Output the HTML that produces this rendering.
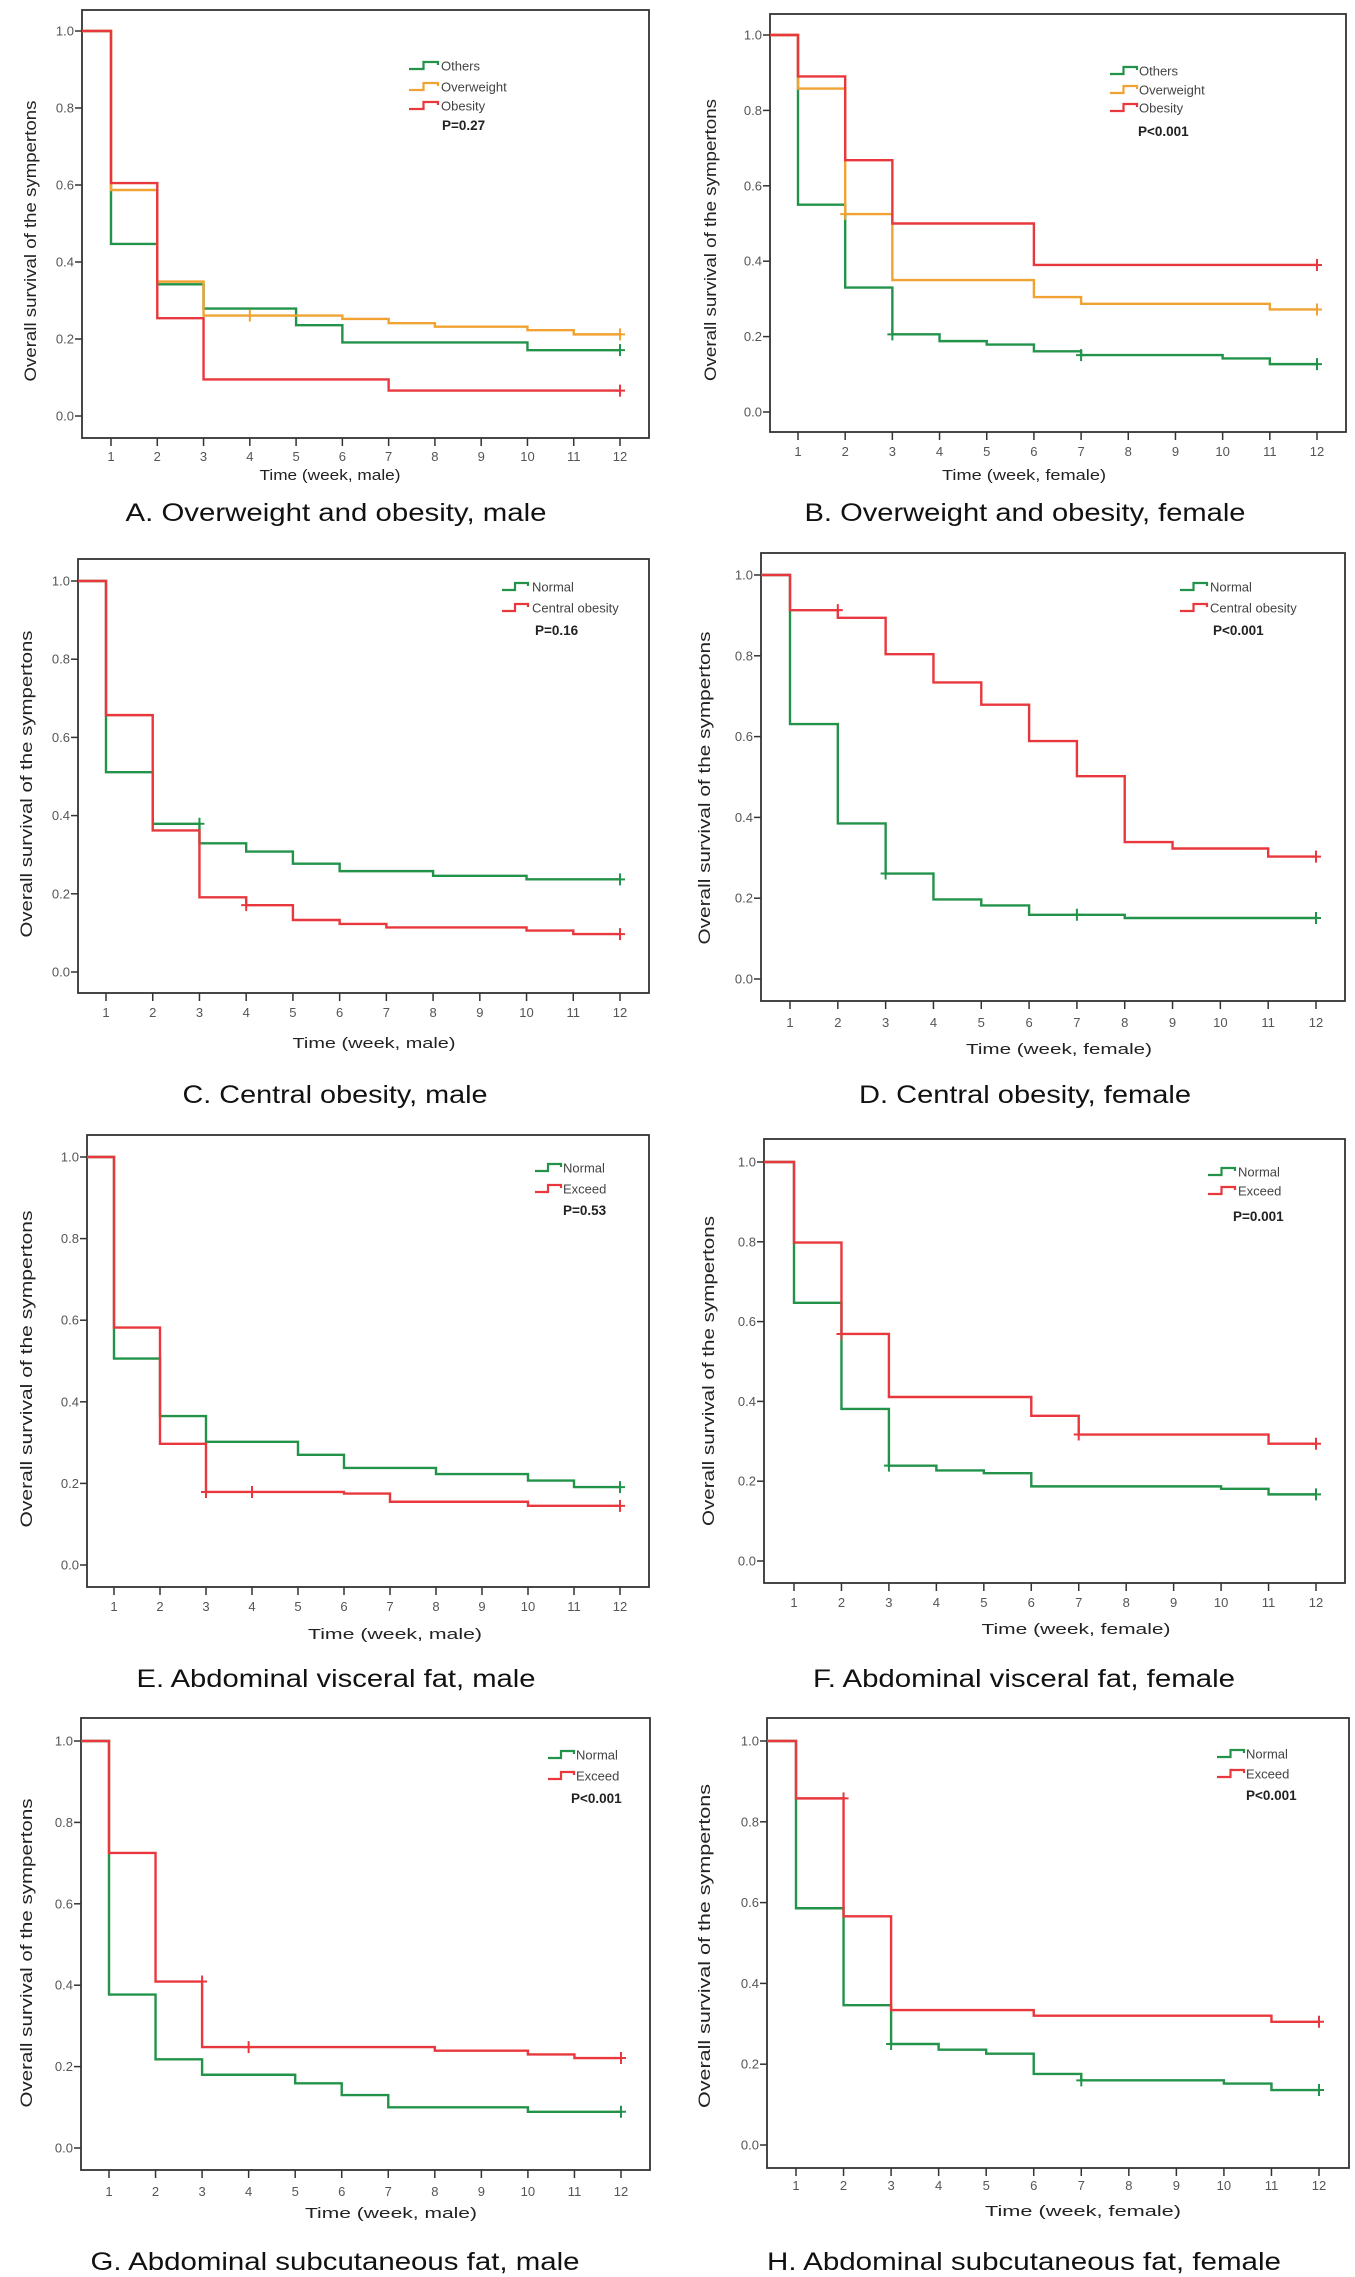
<!DOCTYPE html>
<html><head><meta charset="utf-8"><style>
html,body{margin:0;padding:0;background:#fff;}
svg{display:block;font-family:"Liberation Sans",Arial,sans-serif;}
</style></head><body>
<svg id="fig" width="1355" height="2277" viewBox="0 0 1355 2277" xmlns="http://www.w3.org/2000/svg">
<rect x="0" y="0" width="1355" height="2277" fill="#fff"/>
</svg>
<script>
// shared axis data
const xTicks = [1,2,3,4,5,6,7,8,9,10,11,12];
const yTicks = [0,0.2,0.4,0.6,0.8,1.0];
const yTickLabels = ["0.0","0.2","0.4","0.6","0.8","1.0"];
const stepWeeks = [1,2,3,4,5,6,7,8,9,10,11];

// Panel A
const A_others = [0.447,0.342,0.279,0.279,0.236,0.191,0.191,0.191,0.191,0.171,0.171];
const A_overweight = [0.587,0.349,0.261,0.261,0.261,0.252,0.241,0.232,0.232,0.223,0.212];
const A_obesity = [0.605,0.254,0.095,0.095,0.095,0.095,0.066,0.066,0.066,0.066,0.066];
const A_othersCensT = [12], A_othersCensV = [0.171];
const A_overCensT = [4,12], A_overCensV = [0.261,0.212];
const A_obCensT = [12], A_obCensV = [0.066];
// Panel B
const B_others = [0.55,0.330,0.206,0.188,0.179,0.161,0.151,0.151,0.151,0.142,0.127];
const B_overweight = [0.858,0.525,0.350,0.350,0.350,0.305,0.287,0.287,0.287,0.287,0.272];
const B_obesity = [0.890,0.668,0.500,0.500,0.500,0.390,0.390,0.390,0.390,0.390,0.390];
const B_othersCensT = [3,7,12], B_othersCensV = [0.206,0.151,0.127];
const B_overCensT = [2,12], B_overCensV = [0.525,0.272];
const B_obCensT = [12], B_obCensV = [0.390];
// Panel C
const C_normal = [0.511,0.379,0.329,0.308,0.277,0.258,0.258,0.246,0.246,0.237,0.237];
const C_central = [0.657,0.362,0.191,0.171,0.133,0.123,0.114,0.114,0.114,0.106,0.097];
const C_normCensT = [3,12], C_normCensV = [0.379,0.237];
const C_centCensT = [4,12], C_centCensV = [0.171,0.097];
// Panel D
const D_normal = [0.631,0.385,0.261,0.197,0.182,0.159,0.159,0.151,0.151,0.151,0.151];
const D_central = [0.913,0.894,0.804,0.734,0.679,0.589,0.502,0.339,0.323,0.323,0.303];
const D_normCensT = [3,7,12], D_normCensV = [0.261,0.159,0.151];
const D_centCensT = [2,12], D_centCensV = [0.913,0.303];
// Panel E
const E_normal = [0.506,0.365,0.302,0.302,0.270,0.238,0.238,0.223,0.223,0.207,0.191];
const E_exceed = [0.582,0.297,0.179,0.179,0.179,0.175,0.155,0.155,0.155,0.145,0.145];
const E_normCensT = [12], E_normCensV = [0.191];
const E_excCensT = [3,4,12], E_excCensV = [0.179,0.179,0.145];
// Panel F
const F_normal = [0.647,0.381,0.239,0.227,0.220,0.187,0.187,0.187,0.187,0.181,0.167];
const F_exceed = [0.798,0.569,0.411,0.411,0.411,0.364,0.317,0.317,0.317,0.317,0.294];
const F_normCensT = [3,12], F_normCensV = [0.239,0.167];
const F_excCensT = [2,7,12], F_excCensV = [0.569,0.317,0.294];
// Panel G
const G_normal = [0.377,0.218,0.180,0.180,0.159,0.130,0.100,0.100,0.100,0.089,0.089];
const G_exceed = [0.725,0.409,0.248,0.248,0.248,0.248,0.248,0.239,0.239,0.230,0.221];
const G_normCensT = [12], G_normCensV = [0.089];
const G_excCensT = [3,4,12], G_excCensV = [0.409,0.248,0.221];
// Panel H
const H_normal = [0.586,0.346,0.250,0.236,0.226,0.176,0.160,0.160,0.160,0.152,0.136];
const H_exceed = [0.858,0.566,0.334,0.334,0.334,0.320,0.320,0.320,0.320,0.320,0.305];
const H_normCensT = [3,7,12], H_normCensV = [0.250,0.160,0.136];
const H_excCensT = [2,12], H_excCensV = [0.858,0.305];

const GREEN = "#23934a", ORANGE = "#f0a332", RED = "#e8383d";
const NS = "http://www.w3.org/2000/svg";
const svg = document.getElementById("fig");

function mk(tag, attrs, parent, text){
  const e = document.createElementNS(NS, tag);
  for (const k in attrs) e.setAttribute(k, attrs[k]);
  if (text !== undefined) e.textContent = text;
  (parent || svg).appendChild(e);
  return e;
}

const panels = [
 {id:"a", l:82,r:649,t:10,b:438, x1:111,x12:620, yT:31,yB:416, tickY:461, titleY:480, titleX:330, titleW:141, xTitle:"Time (week, male)",
  ytX:30, ytC:241, ytL:281, capX:336, capY:521, capW:421, cap:"A. Overweight and obesity, male",
  legX0:409, legX1:438, legTX:441, legRows:[66,87,106], pX:442, pY:130, p:"P=0.27",
  series:[["others","Others",GREEN,A_others,A_othersCensT,A_othersCensV],["overweight","Overweight",ORANGE,A_overweight,A_overCensT,A_overCensV],["obesity","Obesity",RED,A_obesity,A_obCensT,A_obCensV]]},
 {id:"b", l:770,r:1346,t:14,b:432, x1:798,x12:1317, yT:35,yB:412, tickY:456, titleY:480, titleX:1024, titleW:164, xTitle:"Time (week, female)",
  ytX:710, ytC:240, ytL:282, capX:1025, capY:521, capW:441, cap:"B. Overweight and obesity, female",
  legX0:1110, legX1:1137, legTX:1139, legRows:[71,90,108], pX:1138, pY:136, p:"P<0.001",
  series:[["others","Others",GREEN,B_others,B_othersCensT,B_othersCensV],["overweight","Overweight",ORANGE,B_overweight,B_overCensT,B_overCensV],["obesity","Obesity",RED,B_obesity,B_obCensT,B_obCensV]]},
 {id:"c", l:78,r:649,t:559,b:993, x1:106,x12:620, yT:581,yB:972, tickY:1017, titleY:1048, titleX:374, titleW:163, xTitle:"Time (week, male)",
  ytX:26, ytC:784, ytL:307, capX:335, capY:1103, capW:305, cap:"C. Central obesity, male",
  legX0:502, legX1:528, legTX:532, legRows:[587,608], pX:535, pY:635, p:"P=0.16",
  series:[["normal","Normal",GREEN,C_normal,C_normCensT,C_normCensV],["central-obesity","Central obesity",RED,C_central,C_centCensT,C_centCensV]]},
 {id:"d", l:761,r:1345,t:553,b:1001, x1:790,x12:1316, yT:575,yB:979, tickY:1027, titleY:1054, titleX:1059, titleW:186, xTitle:"Time (week, female)",
  ytX:704, ytC:788, ytL:313, capX:1025, capY:1103, capW:332, cap:"D. Central obesity, female",
  legX0:1180, legX1:1207, legTX:1210, legRows:[587,608], pX:1213, pY:635, p:"P<0.001",
  series:[["normal","Normal",GREEN,D_normal,D_normCensT,D_normCensV],["central-obesity","Central obesity",RED,D_central,D_centCensT,D_centCensV]]},
 {id:"e", l:87,r:649,t:1135,b:1587, x1:114,x12:620, yT:1157,yB:1565, tickY:1611, titleY:1639, titleX:395, titleW:174, xTitle:"Time (week, male)",
  ytX:26, ytC:1369, ytL:317, capX:336, capY:1687, capW:399, cap:"E. Abdominal visceral fat, male",
  legX0:535, legX1:561, legTX:563, legRows:[1168,1189], pX:563, pY:1215, p:"P=0.53",
  series:[["normal","Normal",GREEN,E_normal,E_normCensT,E_normCensV],["exceed","Exceed",RED,E_exceed,E_excCensT,E_excCensV]]},
 {id:"f", l:764,r:1345,t:1139,b:1583, x1:794,x12:1316, yT:1162,yB:1561, tickY:1607, titleY:1634, titleX:1076, titleW:189, xTitle:"Time (week, female)",
  ytX:708, ytC:1371, ytL:310, capX:1024, capY:1687, capW:422, cap:"F. Abdominal visceral fat, female",
  legX0:1208, legX1:1235, legTX:1238, legRows:[1172,1191], pX:1233, pY:1221, p:"P=0.001",
  series:[["normal","Normal",GREEN,F_normal,F_normCensT,F_normCensV],["exceed","Exceed",RED,F_exceed,F_excCensT,F_excCensV]]},
 {id:"g", l:81,r:650,t:1718,b:2170, x1:109,x12:621, yT:1741,yB:2148, tickY:2196, titleY:2218, titleX:391, titleW:172, xTitle:"Time (week, male)",
  ytX:26, ytC:1953, ytL:309, capX:335, capY:2270, capW:489, cap:"G. Abdominal subcutaneous fat, male",
  legX0:548, legX1:574, legTX:576, legRows:[1755,1776], pX:571, pY:1803, p:"P<0.001",
  series:[["normal","Normal",GREEN,G_normal,G_normCensT,G_normCensV],["exceed","Exceed",RED,G_exceed,G_excCensT,G_excCensV]]},
 {id:"h", l:767,r:1349,t:1718,b:2168, x1:796,x12:1319, yT:1741,yB:2145, tickY:2190, titleY:2216, titleX:1083, titleW:196, xTitle:"Time (week, female)",
  ytX:704, ytC:1946, ytL:324, capX:1024, capY:2270, capW:514, cap:"H. Abdominal subcutaneous fat, female",
  legX0:1217, legX1:1244, legTX:1246, legRows:[1754,1774], pX:1246, pY:1800, p:"P<0.001",
  series:[["normal","Normal",GREEN,H_normal,H_normCensT,H_normCensV],["exceed","Exceed",RED,H_exceed,H_excCensT,H_excCensV]]}
];

panels.forEach(P => {
  const g = mk("g", {});
  
  
  const xs = w => P.x1 + (w - 1) * (P.x12 - P.x1) / 11;
  const ys = v => P.yB - v * (P.yB - P.yT);

  const frame = mk("rect", {x:P.l, y:P.t, width:P.r-P.l, height:P.b-P.t, fill:"none", stroke:"#333", "stroke-width":1.8}, g);
  
  

  yTicks.forEach((v, i) => {
    const y = ys(v);
    const tk = mk("line", {x1:P.l-7, x2:P.l, y1:y, y2:y, stroke:"#333", "stroke-width":1.5}, g);
    
    
    const lb = mk("text", {x:P.l-8, y:y+4.5, "text-anchor":"end", "font-size":13, fill:"#555"}, g, yTickLabels[i]);
    
    
  });
  xTicks.forEach(w => {
    const x = xs(w);
    const tk = mk("line", {x1:x, x2:x, y1:P.b, y2:P.b+8, stroke:"#333", "stroke-width":1.5}, g);
    
    
    const lb = mk("text", {x:x, y:P.tickY, "text-anchor":"middle", "font-size":13, fill:"#555"}, g, String(w));
    
    
  });

  const xt = mk("text", {x:P.titleX, y:P.titleY, "text-anchor":"middle", "font-size":15, fill:"#222", textLength:P.titleW, lengthAdjust:"spacingAndGlyphs"}, g, P.xTitle);
  
  

  const yt = mk("text", {x:0, y:0, "text-anchor":"middle", "font-size":17, fill:"#222", textLength:P.ytL, lengthAdjust:"spacingAndGlyphs",
    transform:"translate(" + (P.ytX + 6) + "," + P.ytC + ") rotate(-90)"}, g, "Overall survival of the sympertons");
  
  

  const cap = mk("text", {x:P.capX, y:P.capY, "text-anchor":"middle", "font-size":25, fill:"#111", textLength:P.capW, lengthAdjust:"spacingAndGlyphs"}, g, P.cap);
  
  

  P.series.forEach((s, si) => {
    const [key, label, col, vals, cT, cV] = s;
    let d = "M" + P.l + "," + ys(1) + " H" + xs(1);
    vals.forEach((v, i) => { d += " V" + ys(v) + " H" + xs(stepWeeks[i] + 1); });
    const path = mk("path", {d:d, fill:"none", stroke:col, "stroke-width":2.4}, g);
    
    
    cT.forEach((t, i) => {
      const cx = xs(t), cy = ys(cV[i]);
      const cm = mk("path", {d:"M" + cx + "," + (cy-6) + " V" + (cy+6) + " M" + (cx-5) + "," + cy + " H" + (cx+5), stroke:col, "stroke-width":2, fill:"none"}, g);
      
      
    });
    const ry = P.legRows[si];
    const lg = mk("path", {d:"M" + P.legX0 + "," + (ry+3) + " H" + (P.legX0 + (P.legX1-P.legX0)*0.5) + " V" + (ry-4) + " H" + P.legX1 + " V" + (ry-1), fill:"none", stroke:col, "stroke-width":2.2}, g);
    
    
    const lt = mk("text", {x:P.legTX, y:ry+4.5, "font-size":13, fill:"#444"}, g, label);
    
    
  });
  const pv = mk("text", {x:P.pX, y:P.pY, "font-size":13.5, fill:"#222", "font-weight":"bold"}, g, P.p);
  
  
});
</script>
</body></html>
